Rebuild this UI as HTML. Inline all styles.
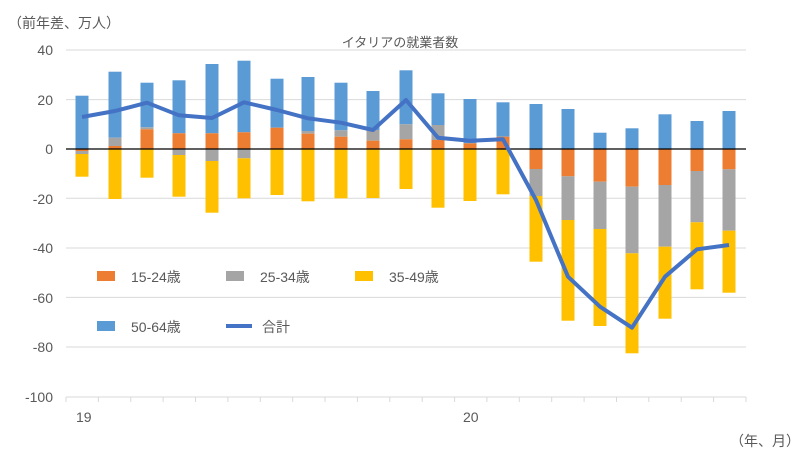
<!DOCTYPE html>
<html><head><meta charset="utf-8"><style>
body{margin:0;background:#fff;}
svg{display:block;font-family:"Liberation Sans","Noto Sans CJK JP",sans-serif;}
</style></head><body>
<svg width="800" height="459" viewBox="0 0 800 459" xmlns="http://www.w3.org/2000/svg">
<g stroke="#d9d9d9" stroke-width="1">
<line x1="66" y1="50" x2="746" y2="50"/>
<line x1="66" y1="99.6" x2="746" y2="99.6"/>
<line x1="66" y1="198.3" x2="746" y2="198.3"/>
<line x1="66" y1="248" x2="746" y2="248"/>
<line x1="66" y1="297.4" x2="746" y2="297.4"/>
<line x1="66" y1="347" x2="746" y2="347"/>
<line x1="66" y1="397" x2="746" y2="397"/>
<line x1="66" y1="397" x2="66" y2="402"/><line x1="98.4" y1="397" x2="98.4" y2="402"/><line x1="130.8" y1="397" x2="130.8" y2="402"/><line x1="163.1" y1="397" x2="163.1" y2="402"/><line x1="195.5" y1="397" x2="195.5" y2="402"/><line x1="227.9" y1="397" x2="227.9" y2="402"/><line x1="260.3" y1="397" x2="260.3" y2="402"/><line x1="292.7" y1="397" x2="292.7" y2="402"/><line x1="325" y1="397" x2="325" y2="402"/><line x1="357.4" y1="397" x2="357.4" y2="402"/><line x1="389.8" y1="397" x2="389.8" y2="402"/><line x1="422.2" y1="397" x2="422.2" y2="402"/><line x1="454.6" y1="397" x2="454.6" y2="402"/><line x1="486.9" y1="397" x2="486.9" y2="402"/><line x1="519.3" y1="397" x2="519.3" y2="402"/><line x1="551.7" y1="397" x2="551.7" y2="402"/><line x1="584.1" y1="397" x2="584.1" y2="402"/><line x1="616.5" y1="397" x2="616.5" y2="402"/><line x1="648.8" y1="397" x2="648.8" y2="402"/><line x1="681.2" y1="397" x2="681.2" y2="402"/><line x1="713.6" y1="397" x2="713.6" y2="402"/><line x1="746" y1="397" x2="746" y2="402"/>
</g>
<g fill="#595959" font-size="14" text-anchor="end">
<text x="53" y="55">40</text><text x="53" y="105">20</text><text x="53" y="154">0</text>
<text x="53" y="204">-20</text><text x="53" y="253">-40</text><text x="53" y="303">-60</text>
<text x="53" y="352">-80</text><text x="53" y="402">-100</text>
</g>
<g>
<!-- 1 -->
<rect x="75.5" y="95.7" width="13" height="53.3" fill="#5b9bd5"/>
<rect x="75.5" y="149" width="13" height="2" fill="#ed7d31"/>
<rect x="75.5" y="151" width="13" height="3" fill="#a5a5a5"/>
<rect x="75.5" y="154" width="13" height="22.7" fill="#ffc000"/>
<!-- 2 -->
<rect x="108.5" y="71.7" width="13" height="66" fill="#5b9bd5"/>
<rect x="108.5" y="137.7" width="13" height="8.3" fill="#a5a5a5"/>
<rect x="108.5" y="146" width="13" height="3" fill="#ed7d31"/>
<rect x="108.5" y="149" width="13" height="50" fill="#ffc000"/>
<!-- 3 -->
<rect x="140.5" y="82.7" width="13" height="44.6" fill="#5b9bd5"/>
<rect x="140.5" y="127.3" width="13" height="2" fill="#a5a5a5"/>
<rect x="140.5" y="129.3" width="13" height="19.7" fill="#ed7d31"/>
<rect x="140.5" y="149" width="13" height="28.7" fill="#ffc000"/>
<!-- 4 -->
<rect x="172.5" y="80.3" width="13" height="53" fill="#5b9bd5"/>
<rect x="172.5" y="133.3" width="13" height="15.7" fill="#ed7d31"/>
<rect x="172.5" y="149" width="13" height="6" fill="#a5a5a5"/>
<rect x="172.5" y="155" width="13" height="41.7" fill="#ffc000"/>
<!-- 5 -->
<rect x="205.5" y="64" width="13" height="69.3" fill="#5b9bd5"/>
<rect x="205.5" y="133.3" width="13" height="15.7" fill="#ed7d31"/>
<rect x="205.5" y="149" width="13" height="12" fill="#a5a5a5"/>
<rect x="205.5" y="161" width="13" height="51.7" fill="#ffc000"/>
<!-- 6 -->
<rect x="237.5" y="60.7" width="13" height="71.6" fill="#5b9bd5"/>
<rect x="237.5" y="132.3" width="13" height="16.7" fill="#ed7d31"/>
<rect x="237.5" y="149" width="13" height="9.3" fill="#a5a5a5"/>
<rect x="237.5" y="158.3" width="13" height="40" fill="#ffc000"/>
<!-- 7 -->
<rect x="270.5" y="78.7" width="13" height="49" fill="#5b9bd5"/>
<rect x="270.5" y="127.7" width="13" height="21.3" fill="#ed7d31"/>
<rect x="270.5" y="149" width="13" height="46" fill="#ffc000"/>
<!-- 8 -->
<rect x="301.5" y="77" width="13" height="54" fill="#5b9bd5"/>
<rect x="301.5" y="131" width="13" height="2.7" fill="#a5a5a5"/>
<rect x="301.5" y="133.7" width="13" height="15.3" fill="#ed7d31"/>
<rect x="301.5" y="149" width="13" height="52.3" fill="#ffc000"/>
<!-- 9 -->
<rect x="334.5" y="82.7" width="13" height="47.6" fill="#5b9bd5"/>
<rect x="334.5" y="130.3" width="13" height="6.4" fill="#a5a5a5"/>
<rect x="334.5" y="136.7" width="13" height="12.3" fill="#ed7d31"/>
<rect x="334.5" y="149" width="13" height="49.3" fill="#ffc000"/>
<!-- 10 -->
<rect x="366.5" y="91" width="13" height="39" fill="#5b9bd5"/>
<rect x="366.5" y="130" width="13" height="10.7" fill="#a5a5a5"/>
<rect x="366.5" y="140.7" width="13" height="8.3" fill="#ed7d31"/>
<rect x="366.5" y="149" width="13" height="49" fill="#ffc000"/>
<!-- 11 -->
<rect x="399.5" y="70.3" width="13" height="54" fill="#5b9bd5"/>
<rect x="399.5" y="124.3" width="13" height="15" fill="#a5a5a5"/>
<rect x="399.5" y="139.3" width="13" height="9.7" fill="#ed7d31"/>
<rect x="399.5" y="149" width="13" height="40" fill="#ffc000"/>
<!-- 12 -->
<rect x="431.5" y="93.3" width="13" height="31.7" fill="#5b9bd5"/>
<rect x="431.5" y="125" width="13" height="15" fill="#a5a5a5"/>
<rect x="431.5" y="140" width="13" height="9" fill="#ed7d31"/>
<rect x="431.5" y="149" width="13" height="58.7" fill="#ffc000"/>
<!-- 13 -->
<rect x="463.5" y="99" width="13" height="44.3" fill="#5b9bd5"/>
<rect x="463.5" y="143.3" width="13" height="5.7" fill="#ed7d31"/>
<rect x="463.5" y="149" width="13" height="52" fill="#ffc000"/>
<!-- 14 -->
<rect x="496.5" y="102.3" width="13" height="34.4" fill="#5b9bd5"/>
<rect x="496.5" y="136.7" width="13" height="12.3" fill="#ed7d31"/>
<rect x="496.5" y="149" width="13" height="45.3" fill="#ffc000"/>
<!-- 15 -->
<rect x="529.5" y="104" width="13" height="45" fill="#5b9bd5"/>
<rect x="529.5" y="149" width="13" height="20" fill="#ed7d31"/>
<rect x="529.5" y="169" width="13" height="27" fill="#a5a5a5"/>
<rect x="529.5" y="196" width="13" height="65.7" fill="#ffc000"/>
<!-- 16 -->
<rect x="561.5" y="109" width="13" height="40" fill="#5b9bd5"/>
<rect x="561.5" y="149" width="13" height="27.3" fill="#ed7d31"/>
<rect x="561.5" y="176.3" width="13" height="43.7" fill="#a5a5a5"/>
<rect x="561.5" y="220" width="13" height="100.7" fill="#ffc000"/>
<!-- 17 -->
<rect x="593.5" y="132.7" width="13" height="16.3" fill="#5b9bd5"/>
<rect x="593.5" y="149" width="13" height="32.7" fill="#ed7d31"/>
<rect x="593.5" y="181.7" width="13" height="47.3" fill="#a5a5a5"/>
<rect x="593.5" y="229" width="13" height="97" fill="#ffc000"/>
<!-- 18 -->
<rect x="625.5" y="128.3" width="13" height="20.7" fill="#5b9bd5"/>
<rect x="625.5" y="149" width="13" height="37.7" fill="#ed7d31"/>
<rect x="625.5" y="186.7" width="13" height="66.6" fill="#a5a5a5"/>
<rect x="625.5" y="253.3" width="13" height="100" fill="#ffc000"/>
<!-- 19 -->
<rect x="658.5" y="114.3" width="13" height="34.7" fill="#5b9bd5"/>
<rect x="658.5" y="149" width="13" height="36" fill="#ed7d31"/>
<rect x="658.5" y="185" width="13" height="61.7" fill="#a5a5a5"/>
<rect x="658.5" y="246.7" width="13" height="72" fill="#ffc000"/>
<!-- 20 -->
<rect x="690.5" y="121" width="13" height="28" fill="#5b9bd5"/>
<rect x="690.5" y="149" width="13" height="22" fill="#ed7d31"/>
<rect x="690.5" y="171" width="13" height="51.3" fill="#a5a5a5"/>
<rect x="690.5" y="222.3" width="13" height="67" fill="#ffc000"/>
<!-- 21 -->
<rect x="722.5" y="111" width="13" height="38" fill="#5b9bd5"/>
<rect x="722.5" y="149" width="13" height="20.3" fill="#ed7d31"/>
<rect x="722.5" y="169.3" width="13" height="61.4" fill="#a5a5a5"/>
<rect x="722.5" y="230.7" width="13" height="62" fill="#ffc000"/>
</g>
<line x1="66" y1="149" x2="746" y2="149" stroke="#000" stroke-width="1.3"/>
<polyline fill="none" stroke="#4472c4" stroke-width="4" stroke-linejoin="round" points="82,117 115,111 147,102.7 179,115.3 212,118 244,102.3 277,110 308,118.3 341,122.7 373,130 406,100 438,137.7 470,140.7 503,139.3 536,200 568,276.7 600,306.7 632,327.7 665,276.7 697,249.3 729,245"/>
<g fill="#595959" font-size="14">
<text x="76" y="422">19</text><text x="463" y="422">20</text>
<text x="730" y="446">（年、月）</text>
<text x="8" y="28">（前年差、万人）</text>
<text x="400" y="47" text-anchor="middle" font-size="13">イタリアの就業者数</text>
</g>
<g font-size="14" fill="#595959">
<rect x="97" y="271" width="18" height="10" fill="#ed7d31"/><text x="131" y="282">15-24歳</text>
<rect x="226" y="271" width="18" height="10" fill="#a5a5a5"/><text x="260" y="282">25-34歳</text>
<rect x="355" y="271" width="18" height="10" fill="#ffc000"/><text x="389" y="282">35-49歳</text>
<rect x="97" y="321" width="18" height="10" fill="#5b9bd5"/><text x="131" y="332">50-64歳</text>
<line x1="226" y1="326" x2="252" y2="326" stroke="#4472c4" stroke-width="4"/><text x="262" y="332">合計</text>
</g>
</svg>
</body></html>
